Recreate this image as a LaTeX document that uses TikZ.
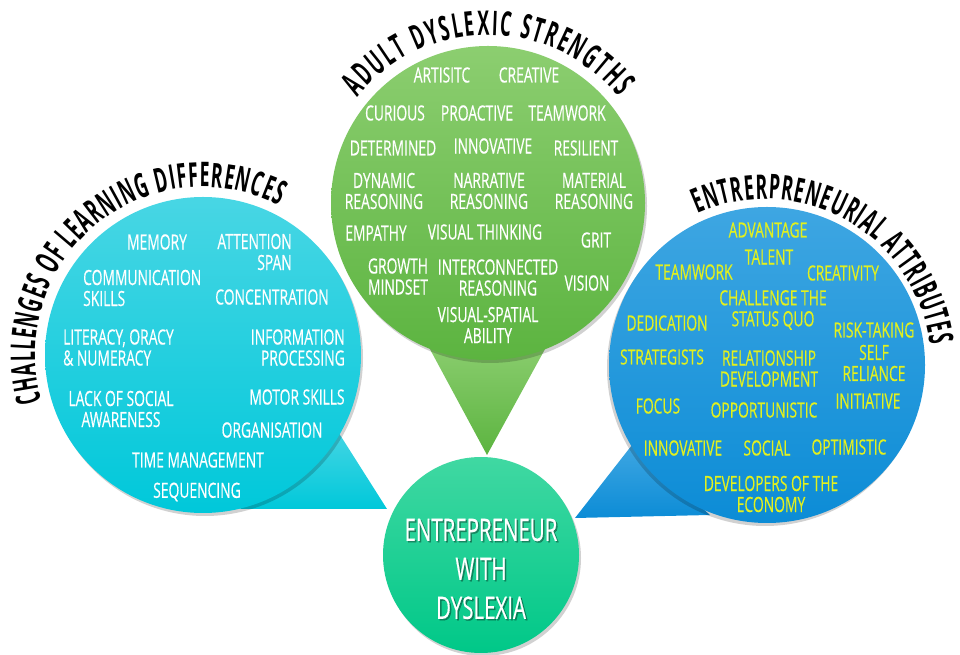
\documentclass[tikz,border=0pt]{standalone}
\usepackage{fontspec}
\setmainfont[FakeStretch=0.66, FakeBold=0.4]{Open Sans}
\newfontfamily\titlefont[FakeStretch=0.52]{Open Sans}
\usetikzlibrary{decorations.text}

\definecolor{cyantop}{RGB}{72,214,228}
\definecolor{cyanbot}{RGB}{0,200,218}
\definecolor{greentop}{RGB}{140,206,112}
\definecolor{greenbot}{RGB}{92,180,64}
\definecolor{bluetop}{RGB}{62,166,226}
\definecolor{bluebot}{RGB}{12,140,214}
\definecolor{minttop}{RGB}{64,216,162}
\definecolor{mintbot}{RGB}{0,200,136}
\definecolor{attryellow}{RGB}{226,240,30}

\begin{document}
\begin{tikzpicture}[x=1pt,y=1pt,
    word/.style={font=\fontsize{21}{21}\selectfont, align=center, inner sep=0pt, text=white},
    yword/.style={word, text=attryellow},
    shadowdisc/.style={fill=black, opacity=0.18},
    arctitle/.style={decorate, decoration={text along path, text align={fit to path},
        text={|\titlefont\bfseries\fontsize{34}{34}\selectfont|#1}}}]
\useasboundingbox (0,0) rectangle (960,655);

% speech bubble tails
\shade[top color=cyantop, bottom color=cyanbot] (335,228) -- (387,146) -- (240,146) -- cycle;
\shade[top color=greentop, bottom color=greenbot] (425,315) -- (550,315) -- (487,200) -- cycle;
\shade[top color=bluetop, bottom color=bluebot] (632,210) -- (575,137) -- (710,140) -- cycle;

% bubbles
\fill[shadowdisc] (205,297) circle (158);
\shade[top color=cyantop, bottom color=cyanbot] (203,300) circle (158);
\fill[shadowdisc] (490,449) circle (157);
\shade[top color=greentop, bottom color=greenbot] (488,452) circle (157);
\fill[shadowdisc] (765,287) circle (158);
\shade[top color=bluetop, bottom color=bluebot] (767,290) circle (158);
\fill[shadowdisc] (483,97) circle (98);
\shade[top color=minttop, bottom color=mintbot] (481,100) circle (98);

% curved titles
\path[arctitle={CHALLENGES OF LEARNING DIFFERENCES}] (203,300) ++(196:168) arc (196:63:168);
\path[arctitle={ADULT DYSLEXIC STRENGTHS}] (488,452) ++(141:168) arc (141:39:168);
\path[arctitle={ENTRERPRENEURIAL ATTRIBUTES}] (765,290) ++(114:166) arc (114:7:166);

% challenges
\node[word] (memory) at (157,413) {MEMORY};
\node[word, align=right, anchor=east] (attention) at (292,403) {ATTENTION\\SPAN};
\node[word, align=left, anchor=west] (communication) at (83,367) {COMMUNICATION\\SKILLS};
\node[word] (concentration) at (272,358) {CONCENTRATION};
\node[word, align=left, anchor=west] (literacy) at (63,307.5) {LITERACY, ORACY\\\& NUMERACY};
\node[word, align=right, anchor=east] (information) at (345,307.5) {INFORMATION\\PROCESSING};
\node[word] (lack) at (121,246) {LACK OF SOCIAL\\AWARENESS};
\node[word] (motor) at (297,258) {MOTOR SKILLS};
\node[word] (organisation) at (272,225) {ORGANISATION};
\node[word] (timemgmt) at (198,195) {TIME MANAGEMENT};
\node[word] (sequencing) at (197,163) {SEQUENCING};

% strengths
\node[word] (artistic) at (442,580) {ARTISITC};
\node[word] (creative) at (529,580) {CREATIVE};
\node[word] (curious) at (395,542) {CURIOUS};
\node[word] (proactive) at (477,542) {PROACTIVE};
\node[word] (teamwork) at (567,542) {TEAMWORK};
\node[word] (determined) at (393,507) {DETERMINED};
\node[word] (innovative) at (493,509) {INNOVATIVE};
\node[word] (resilient) at (586,507) {RESILIENT};
\node[word] (dynamic) at (384,464) {DYNAMIC\\REASONING};
\node[word] (narrative) at (489,464) {NARRATIVE\\REASONING};
\node[word] (material) at (594,464) {MATERIAL\\REASONING};
\node[word] (empathy) at (376,422) {EMPATHY};
\node[word] (visthinking) at (485,423) {VISUAL THINKING};
\node[word] (grit) at (596,415) {GRIT};
\node[word] (growth) at (398,378.5) {GROWTH\\MINDSET};
\node[word] (interconnected) at (498,377.5) {INTERCONNECTED\\REASONING};
\node[word] (vision) at (587,372) {VISION};
\node[word] (visspatial) at (488,330) {VISUAL-SPATIAL\\ABILITY};

% attributes
\node[yword] (advantage) at (768,425) {ADVANTAGE};
\node[yword] (talent) at (769,398) {TALENT};
\node[yword] (teamwork2) at (694,383) {TEAMWORK};
\node[yword] (creativity) at (843,382) {CREATIVITY};
\node[yword] (challenge) at (773,345) {CHALLENGE THE\\STATUS QUO};
\node[yword] (dedication) at (667,332) {DEDICATION};
\node[yword] (risktaking) at (874,325) {RISK-TAKING};
\node[yword] (strategists) at (662,298) {STRATEGISTS};
\node[yword] (relationship) at (769,286.5) {RELATIONSHIP\\DEVELOPMENT};
\node[yword] (selfreliance) at (874,292) {SELF\\RELIANCE};
\node[yword] (focus) at (658,249) {FOCUS};
\node[yword] (opportunistic) at (764,245) {OPPORTUNISTIC};
\node[yword] (initiative) at (868,254) {INITIATIVE};
\node[yword] (innovative2) at (683,207) {INNOVATIVE};
\node[yword] (social) at (767,207) {SOCIAL};
\node[yword] (optimistic) at (849,208) {OPTIMISTIC};
\node[yword] (developers) at (771,161) {DEVELOPERS OF THE\\ECONOMY};

% centre
\node[word, text=black, opacity=0.35, font=\fontsize{31}{39}\selectfont] (centreshadow) at (482.5,84.5) {ENTREPRENEUR\\WITH\\DYSLEXIA};
\node[word, font=\fontsize{31}{39}\selectfont] (centre) at (481,86) {ENTREPRENEUR\\WITH\\DYSLEXIA};
\end{tikzpicture}
\end{document}
